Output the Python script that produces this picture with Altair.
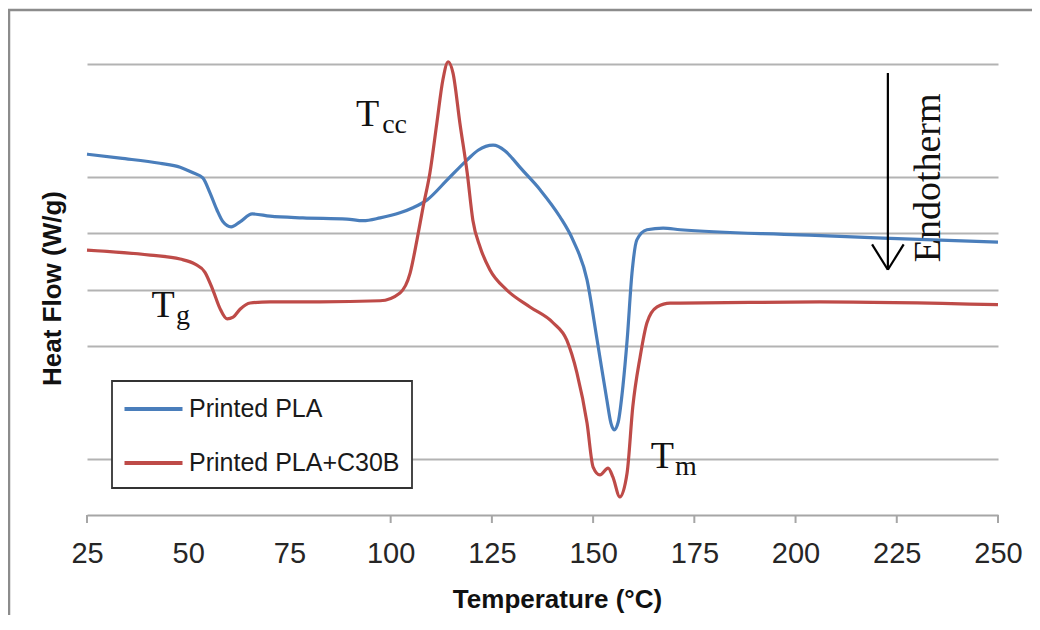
import altair as alt
import pandas as pd

series_names = ["Printed PLA", "Printed PLA+C30B"]
series_colors = ["#4A7EBB", "#BE4B48"]

pla_temp = [25.0, 33.2, 43.0, 48.0, 51.2, 53.6, 55.4, 57.1, 58.6, 60.6, 62.8, 65.8,
            70.2, 78.3, 89.2, 93.2, 97.4, 102.3, 105.5, 109.0, 113.9, 118.9, 121.6,
            125.3, 128.2, 130.0, 131.9, 136.9, 141.8, 145.0, 148.5, 151.0, 153.4, 154.4, 155.2,
            156.2, 157.4, 158.4, 159.6, 160.8, 163.3, 167.3, 171.5, 201.1, 221.6, 250.0]
pla_flow = [6.40, 6.33, 6.24, 6.17, 6.07, 5.98, 5.71, 5.41, 5.20, 5.11, 5.20, 5.34,
            5.30, 5.27, 5.25, 5.22, 5.27, 5.36, 5.45, 5.59, 5.94, 6.30, 6.47,
            6.56, 6.46, 6.33, 6.17, 5.77, 5.29, 4.88, 4.17, 3.10, 2.04, 1.63, 1.51,
            1.65, 2.31, 3.10, 4.29, 4.88, 5.06, 5.09, 5.06, 4.97, 4.91, 4.84]

c30b_temp = [25.0, 40.6, 48.0, 51.7, 54.1, 56.1, 57.8, 59.6, 61.1, 62.8, 65.3, 70.2,
             82.5, 97.4, 102.3, 104.8, 106.5, 108.0, 109.7, 111.4, 112.9, 114.2,
             115.4, 117.1, 118.9, 120.3, 122.1, 124.5, 128.7, 134.4, 140.1, 143.5,
             146.0, 148.5, 150.0, 151.7, 153.7, 154.9, 156.6, 158.4, 159.8, 161.6,
             163.3, 165.8, 169.0, 171.5, 206.0, 250.0]
c30b_flow = [4.70, 4.61, 4.54, 4.45, 4.31, 3.99, 3.67, 3.48, 3.51, 3.65, 3.76, 3.78,
             3.78, 3.80, 3.94, 4.29, 4.88, 5.46, 6.07, 6.95, 7.72, 8.04,
             7.84, 6.95, 6.07, 5.23, 4.75, 4.35, 3.99, 3.69, 3.41, 3.10,
             2.52, 1.63, 0.85, 0.71, 0.83, 0.67, 0.32, 0.75, 1.92, 2.80,
             3.41, 3.69, 3.76, 3.76, 3.78, 3.73]

x_label_values = [25, 50, 75, 100, 125, 150, 175, 200, 225, 250]
x_tick_marks = [25, 100, 125, 150, 175, 200, 225, 250]
grid_values = [1, 3, 4, 5, 6, 8]

# annotations (data coordinates)
main_letters = ["T", "T", "T"]
main_x = [94.3, 43.8, 167.1]
main_y = [6.90, 3.51, 0.83]
sub_letters = ["cc", "g", "m"]
sub_x = [97.9, 47.0, 170.2]
sub_y = [6.78, 3.39, 0.71]
endo_text = ["Endotherm"]
endo_x = [235.7]
endo_y = [5.98]
arrow_x = [222.8, 218.9, 226.7]
arrow_y = [7.84, 4.80, 4.80]
arrow_x2 = [222.8, 222.8, 222.8]
arrow_y2 = [4.35, 4.35, 4.35]

W, H = 911, 451

df = pd.concat([
    pd.DataFrame({"series": series_names[0], "T": pla_temp, "v": pla_flow}),
    pd.DataFrame({"series": series_names[1], "T": c30b_temp, "v": c30b_flow}),
])

xs = alt.Scale(domain=[25, 250], nice=False, zero=False)
ys = alt.Scale(domain=[0, 8], nice=False, zero=False)

sans = "Liberation Sans"
serif = "Liberation Serif"

lines = alt.Chart(df).mark_line(strokeWidth=3.2, interpolate="monotone").encode(
    x=alt.X("T:Q", scale=xs, axis=alt.Axis(
        values=x_label_values, title="Temperature (°C)", ticks=False, grid=False,
        labelFont=sans, labelFontSize=29, labelColor="#262626", labelPadding=24,
        labelFlush=False, domainColor="#a6a6a6", domainWidth=2,
        titleFont=sans, titleFontSize=26, titleFontWeight="bold", titleColor="#111111",
        titleX=470, titleY=92, titleBaseline="alphabetic")),
    y=alt.Y("v:Q", scale=ys, axis=alt.Axis(
        values=grid_values, labels=False, ticks=False, domain=False, grid=True,
        gridColor="#b3b3b3", gridWidth=2, title="Heat Flow (W/g)",
        titleFont=sans, titleFontSize=26, titleFontWeight="bold", titleColor="#111111",
        titleX=-27, titleY=224, titleBaseline="alphabetic", titleAngle=270)),
    color=alt.Color("series:N", scale=alt.Scale(domain=series_names, range=series_colors),
                    legend=alt.Legend(
                        title=None, orient="none", legendX=25, legendY=317,
                        direction="vertical", padding=11.5, strokeColor="#333333",
                        fillColor="white", symbolType="M-2,0H2", symbolSize=841,
                        symbolStrokeWidth=4, symbolOffset=13.5, labelOffset=19,
                        labelFont=sans, labelFontSize=25, labelColor="#1a1a1a",
                        labelLimit=400, rowPadding=24)),
)

ticks = alt.Chart(pd.DataFrame({"t": x_tick_marks})).mark_rule(
    color="#a6a6a6", strokeWidth=2).encode(
    x=alt.X("t:Q", scale=xs), y=alt.value(H), y2=alt.value(H + 8))

letters = alt.Chart(pd.DataFrame({"s": main_letters, "x": main_x, "y": main_y})).mark_text(
    font=serif, fontSize=38, align="center", baseline="alphabetic", color="#111111").encode(
    x=alt.X("x:Q", scale=xs), y=alt.Y("y:Q", scale=ys), text="s:N")

subs = alt.Chart(pd.DataFrame({"s": sub_letters, "x": sub_x, "y": sub_y})).mark_text(
    font=serif, fontSize=28, align="left", baseline="alphabetic", color="#111111").encode(
    x=alt.X("x:Q", scale=xs), y=alt.Y("y:Q", scale=ys), text="s:N")

endo = alt.Chart(pd.DataFrame({"s": endo_text, "x": endo_x, "y": endo_y})).mark_text(
    font=serif, fontSize=38, align="center", baseline="alphabetic", angle=270,
    color="#111111").encode(
    x=alt.X("x:Q", scale=xs), y=alt.Y("y:Q", scale=ys), text="s:N")

arrow = alt.Chart(pd.DataFrame({"x": arrow_x, "y": arrow_y, "x2": arrow_x2, "y2": arrow_y2})).mark_rule(
    color="#000000", strokeWidth=2.2).encode(
    x=alt.X("x:Q", scale=xs), y=alt.Y("y:Q", scale=ys), x2="x2:Q", y2="y2:Q")

border = alt.Chart(pd.DataFrame({"a": [0]})).mark_rect(
    fillOpacity=0, stroke="#8c8c8c", strokeWidth=2.5).encode(
    x=alt.value(-78), x2=alt.value(980), y=alt.value(-54), y2=alt.value(600))

chart = alt.layer(border, ticks, lines, arrow, letters, subs, endo).properties(
    width=W, height=H,
    autosize=alt.AutoSizeParams(type="none"),
    padding={"left": 79, "top": 56, "right": 34, "bottom": 100},
).configure_view(stroke=None).configure_legend(strokeWidth=1.8)

chart.save("out.html", embed_options={"renderer": "svg", "actions": False})
